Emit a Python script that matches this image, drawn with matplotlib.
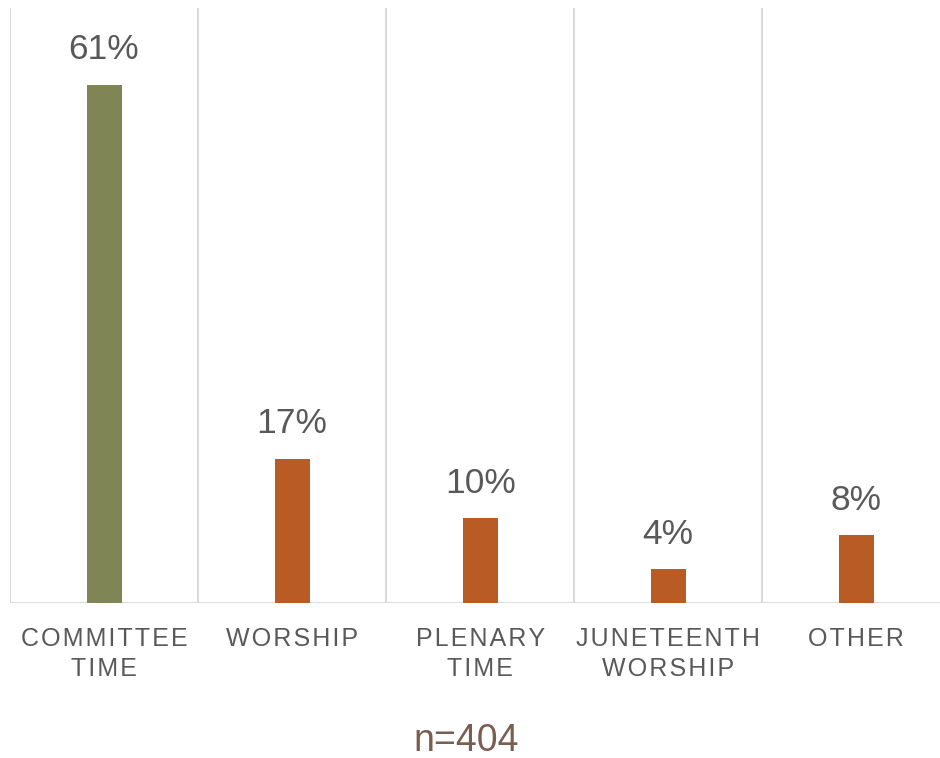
import matplotlib.pyplot as plt
import numpy as np

# Data
categories = ['COMMITTEE\nTIME', 'WORSHIP', 'PLENARY\nTIME', 'JUNETEENTH\nWORSHIP', 'OTHER']
values = [61, 17, 10, 4, 8]
colors = ['#808556', '#B95B24', '#B95B24', '#B95B24', '#B95B24']
note = 'n=404'

plt.rcParams['font.family'] = ['Liberation Sans', 'DejaVu Sans']

def spaced(s):
    # fake letter spacing with hair spaces
    return '\n'.join('\u200a'.join(line) for line in s.split('\n'))

fig = plt.figure(figsize=(9.4, 7.58), dpi=100)
ax = fig.add_axes([10 / 940, 1 - 603 / 758, 930 / 940, 595 / 758])

x = np.arange(len(categories))
bars = ax.bar(x, values, width=0.186, color=colors, zorder=3)

ax.set_xlim(-0.5, 4.445)
ax.set_ylim(0, 70)

# vertical separators between categories
for b in np.arange(-0.5, len(categories), 1.0):
    ax.axvline(b, color='#d9d9d9', lw=1.5, zorder=1)
ax.axhline(0, color='#d9d9d9', lw=2, zorder=2)

for rect, v in zip(bars, values):
    ax.annotate(f'{v}%', (rect.get_x() + rect.get_width() / 2, v),
                xytext=(0, 13), textcoords='offset points',
                ha='center', va='bottom', fontsize=25.5, color='#595959')

for spine in ax.spines.values():
    spine.set_visible(False)
ax.set_yticks([])
ax.set_xticks(x)
ax.set_xticklabels([spaced(c) for c in categories], fontsize=18, color='#595959',
                   linespacing=1.35)
ax.tick_params(axis='x', length=0, pad=17)

fig.text(466 / 940, 1 - 741 / 758, note, ha='center', va='center',
         fontsize=27, color='#7a5e52')

fig.savefig('out.png', dpi=100)
